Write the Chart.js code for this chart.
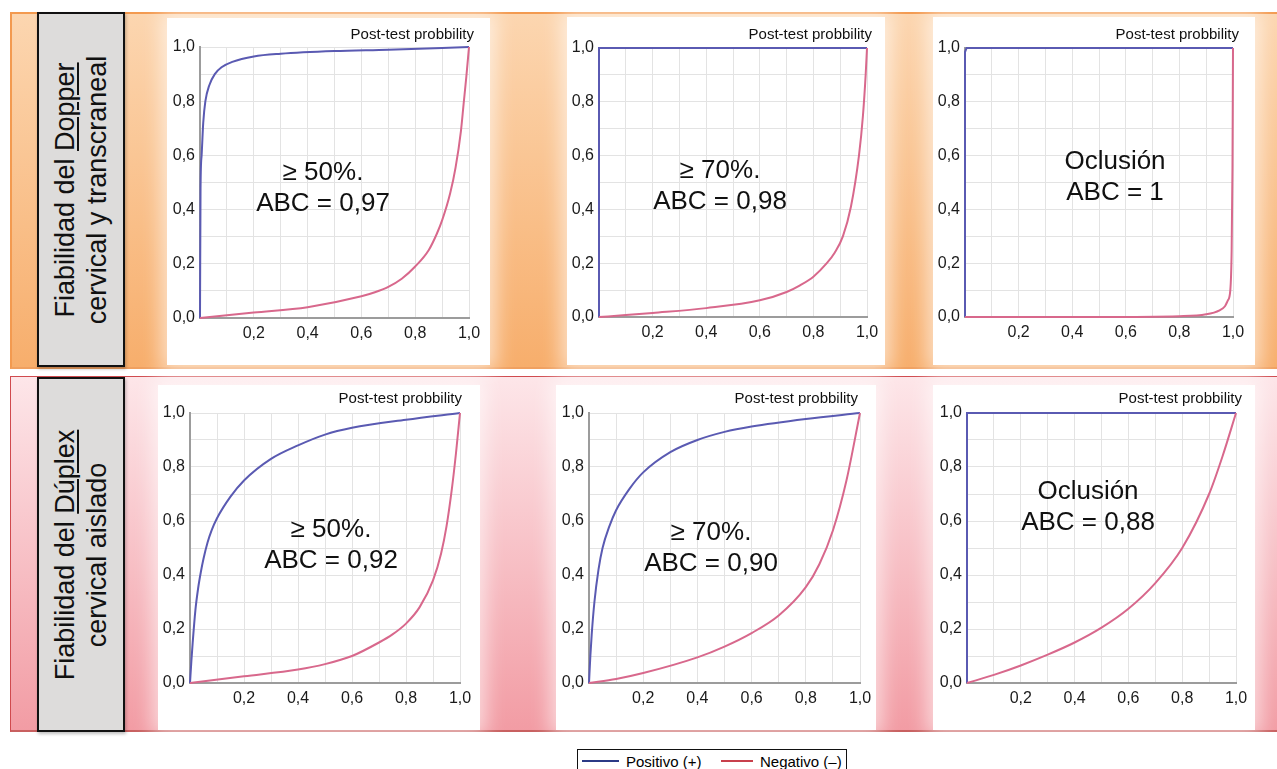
<!DOCTYPE html>
<html>
<head>
<meta charset="utf-8">
<script src="https://cdn.jsdelivr.net/npm/chart.js@4.4.0/dist/chart.umd.min.js"></script>
<style>
  body { margin: 0; width: 1277px; height: 769px; overflow: hidden; background: #fff;
         font-family: "Liberation Sans", Arial, sans-serif; position: relative; }
  .band { position: absolute; left: 10px; width: 1290px; }
  #bandTop { top: 12px; height: 353px; border-top: 2px solid #f39a50; border-left: 2px solid #f39a50;
             border-bottom: 2px solid #f0a060; background: linear-gradient(#fcd6b0, #f7ae6c); }
  #bandBot { top: 376px; height: 353px; border-top: 1px solid #d04a4e; border-left: 1px solid #d04a4e;
             border-bottom: 2px solid #c86060; background: linear-gradient(#fde6e9, #f29ca4); }
  .lbl { position: absolute; left: 37px; width: 84px; background: #dddcdb; border: 2px solid #111;
         box-shadow: 1px 2px 3px rgba(0,0,0,0.25); }
  .rot { position: absolute; left: 50%; top: 50%; width: 340px; transform: translate(-50%, -50%) rotate(-90deg);
         text-align: center; font-size: 27px; line-height: 32px; white-space: nowrap; color: #111; }
  .rot u { text-decoration-thickness: 1.5px; text-underline-offset: 3px; }
  .panel { position: absolute; background: #fff; box-shadow: 0 0 18px 6px rgba(255,255,255,0.6); }
  canvas { position: absolute; }
  .ttl { position: absolute; width: 200px; text-align: right; font-size: 15px; line-height: 18px; color: #111; }
  .note { position: absolute; width: 300px; text-align: center; font-size: 26px; line-height: 31px; color: #111; }
  #legend { position: absolute; left: 577px; top: 749px; width: 268px; height: 26px; border: 1px solid #111;
            background: #fff; font-size: 15px; }
  #legend span { position: absolute; top: 3px; }
  #legend i { position: absolute; top: 10px; height: 2px; }
</style>
</head>
<body>
<div class="band" id="bandTop"></div>
<div class="band" id="bandBot"></div>

<div class="lbl" style="top:12px;height:351px"><div class="rot">Fiabilidad del <u>Dopper</u><br>cervical y transcraneal</div></div>
<div class="lbl" style="top:377px;height:351px"><div class="rot">Fiabilidad del <u>Dúplex</u><br>cervical aislado</div></div>

<div class="panel" style="left:167px;top:18px;width:323px;height:347px"></div>
<div class="panel" style="left:567px;top:17px;width:318px;height:348px"></div>
<div class="panel" style="left:933px;top:17px;width:322px;height:348px"></div>
<div class="panel" style="left:158px;top:385px;width:322px;height:345px"></div>
<div class="panel" style="left:556px;top:385px;width:320px;height:345px"></div>
<div class="panel" style="left:933px;top:385px;width:322px;height:345px"></div>

<canvas id="c1"></canvas><canvas id="c2"></canvas><canvas id="c3"></canvas>
<canvas id="c4"></canvas><canvas id="c5"></canvas><canvas id="c6"></canvas>

<div class="ttl" style="left:274px;top:25px">Post-test probbility</div>
<div class="ttl" style="left:672px;top:25px">Post-test probbility</div>
<div class="ttl" style="left:1039px;top:25px">Post-test probbility</div>
<div class="ttl" style="left:262px;top:389px">Post-test probbility</div>
<div class="ttl" style="left:658px;top:389px">Post-test probbility</div>
<div class="ttl" style="left:1042px;top:389px">Post-test probbility</div>

<div class="note" style="left:173px;top:156px">≥ 50%.<br>ABC = 0,97</div>
<div class="note" style="left:570px;top:154px">≥ 70%.<br>ABC = 0,98</div>
<div class="note" style="left:965px;top:145px">Oclusión<br>ABC = 1</div>
<div class="note" style="left:181px;top:513px">≥ 50%.<br>ABC = 0,92</div>
<div class="note" style="left:561px;top:516px">≥ 70%.<br>ABC = 0,90</div>
<div class="note" style="left:938px;top:475px">Oclusión<br>ABC = 0,88</div>

<div id="legend">
  <i style="left:4px;width:37px;background:#2b3a86"></i><span style="left:48px">Positivo (+)</span>
  <i style="left:143px;width:32px;background:#c8404c"></i><span style="left:182px">Negativo (–)</span>
</div>

<script>
// probabilidad pre-test (x) y post-test (y)

// Doppler >= 50%
const dop50PosX = [0, 0.002, 0.006, 0.012, 0.02, 0.035, 0.055, 0.08, 0.12, 0.2, 0.3, 0.5, 0.7, 1.0];
const dop50PosY = [0, 0.48, 0.6, 0.72, 0.8, 0.86, 0.9, 0.925, 0.945, 0.965, 0.975, 0.985, 0.99, 1.0];
const dop50NegX = [0, 0.2, 0.4, 0.6, 0.65, 0.7, 0.75, 0.8, 0.85, 0.88, 0.9, 0.93, 0.95, 0.97, 0.98, 0.99, 1.0];
const dop50NegY = [0, 0.02, 0.04, 0.08, 0.095, 0.115, 0.145, 0.19, 0.25, 0.31, 0.36, 0.46, 0.555, 0.69, 0.79, 0.89, 1.0];

// Doppler >= 70%
const dop70PosX = [0, 0, 1.0];
const dop70PosY = [0, 1.0, 1.0];
const dop70NegX = [0, 0.1, 0.2, 0.4, 0.6, 0.7, 0.75, 0.8, 0.85, 0.88, 0.91, 0.94, 0.97, 0.985, 0.995, 1.0];
const dop70NegY = [0, 0.007, 0.015, 0.033, 0.062, 0.093, 0.118, 0.15, 0.2, 0.24, 0.3, 0.41, 0.6, 0.75, 0.9, 1.0];

// Doppler oclusion
const dopOclPosX = [0, 0, 0.006, 1.0];
const dopOclPosY = [0, 0.985, 1.0, 1.0];
const dopOclNegX = [0, 0.5, 0.8, 0.9, 0.95, 0.97, 0.98, 0.99, 0.995, 0.998, 1.0];
const dopOclNegY = [0, 0, 0.003, 0.01, 0.025, 0.04, 0.06, 0.1, 0.25, 0.55, 1.0];

// Duplex >= 50%
const dup50PosX = [0, 0.005, 0.01, 0.02, 0.03, 0.04, 0.05, 0.065, 0.08, 0.1, 0.15, 0.2, 0.3, 0.4, 0.5, 0.6, 0.8, 1.0];
const dup50PosY = [0, 0.08, 0.15, 0.27, 0.35, 0.41, 0.46, 0.52, 0.565, 0.61, 0.69, 0.75, 0.83, 0.88, 0.92, 0.945, 0.975, 1.0];
const dup50NegX = [0, 0.2, 0.4, 0.5, 0.6, 0.7, 0.75, 0.8, 0.85, 0.9, 0.93, 0.95, 0.97, 0.985, 1.0];
const dup50NegY = [0, 0.025, 0.05, 0.07, 0.1, 0.15, 0.18, 0.22, 0.28, 0.38, 0.48, 0.58, 0.72, 0.85, 1.0];

// Duplex >= 70%
const dup70PosX = [0, 0.005, 0.01, 0.02, 0.035, 0.05, 0.075, 0.1, 0.15, 0.2, 0.3, 0.4, 0.5, 0.6, 0.8, 1.0];
const dup70PosY = [0, 0.1, 0.18, 0.3, 0.42, 0.5, 0.58, 0.64, 0.72, 0.78, 0.855, 0.9, 0.93, 0.95, 0.978, 1.0];
const dup70NegX = [0, 0.1, 0.2, 0.4, 0.5, 0.6, 0.7, 0.8, 0.85, 0.9, 0.95, 1.0];
const dup70NegY = [0, 0.015, 0.037, 0.095, 0.135, 0.185, 0.25, 0.355, 0.44, 0.565, 0.75, 1.0];

// Duplex oclusion
const dupOclPosX = [0, 0, 1.0];
const dupOclPosY = [0, 1.0, 1.0];
const dupOclNegX = [0, 0.1, 0.2, 0.3, 0.4, 0.5, 0.6, 0.7, 0.8, 0.9, 0.95, 1.0];
const dupOclNegY = [0, 0.03, 0.065, 0.105, 0.15, 0.205, 0.275, 0.37, 0.5, 0.7, 0.84, 1.0];

const colorPos = '#5a5ab2';
const colorNeg = '#d8688c';

const pts = (xs, ys) => xs.map((x, i) => ({ x: x, y: ys[i] }));

const etiqueta = (v, saltarCero) => {
  const k = Math.round(v * 10);
  if (k % 2 !== 0 || (saltarCero && k === 0)) return '';
  return (k / 10).toFixed(1).replace('.', ',');
};

function grafico(id, plot, posX, posY, negX, negY) {
  const cv = document.getElementById(id);
  cv.width = plot.w + 65;
  cv.height = plot.h + 70;
  cv.style.left = (plot.l - 40) + 'px';
  cv.style.top = (plot.t - 30) + 'px';

  const escala = (eje) => ({
    type: 'linear',
    min: 0,
    max: 1,
    grid: { color: '#e3e3e3', lineWidth: 1, drawTicks: false },
    border: { color: '#9c9c9c', width: 2 },
    ticks: {
      stepSize: 0.1,
      autoSkip: false,
      padding: eje === 'x' ? 6 : 5,
      color: '#1a1a1a',
      font: { size: 16, family: '"Liberation Sans", Arial, sans-serif' },
      maxRotation: 0,
      callback: (v) => etiqueta(v, eje === 'x')
    },
    afterFit: (s) => { if (eje === 'x') s.height = 30; else s.width = 40; }
  });

  const pasoPos = posX[0] === posX[1];

  return new Chart(cv, {
    type: 'line',
    data: {
      datasets: [
        {
          label: 'Negativo (–)',
          data: pts(negX, negY),
          borderColor: colorNeg,
          borderWidth: 2,
          pointRadius: 0,
          cubicInterpolationMode: 'monotone',
          clip: 4
        },
        {
          label: 'Positivo (+)',
          data: pts(posX, posY),
          borderColor: colorPos,
          borderWidth: 2,
          pointRadius: 0,
          tension: pasoPos ? 0 : 0.4,
          cubicInterpolationMode: pasoPos ? 'default' : 'monotone',
          clip: 4
        }
      ]
    },
    options: {
      responsive: false,
      animation: false,
      layout: { padding: { top: 30, right: 25, bottom: 10, left: 0 } },
      plugins: { legend: { display: false }, tooltip: { enabled: false } },
      scales: { x: escala('x'), y: escala('y') }
    }
  });
}

grafico('c1', { l: 200, t: 47, w: 269, h: 271 }, dop50PosX, dop50PosY, dop50NegX, dop50NegY);
grafico('c2', { l: 599, t: 48, w: 268, h: 269 }, dop70PosX, dop70PosY, dop70NegX, dop70NegY);
grafico('c3', { l: 965, t: 48, w: 268, h: 269 }, dopOclPosX, dopOclPosY, dopOclNegX, dopOclNegY);
grafico('c4', { l: 190, t: 413, w: 270, h: 270 }, dup50PosX, dup50PosY, dup50NegX, dup50NegY);
grafico('c5', { l: 589, t: 413, w: 271, h: 270 }, dup70PosX, dup70PosY, dup70NegX, dup70NegY);
grafico('c6', { l: 967, t: 413, w: 269, h: 270 }, dupOclPosX, dupOclPosY, dupOclNegX, dupOclNegY);
</script>
</body>
</html>
